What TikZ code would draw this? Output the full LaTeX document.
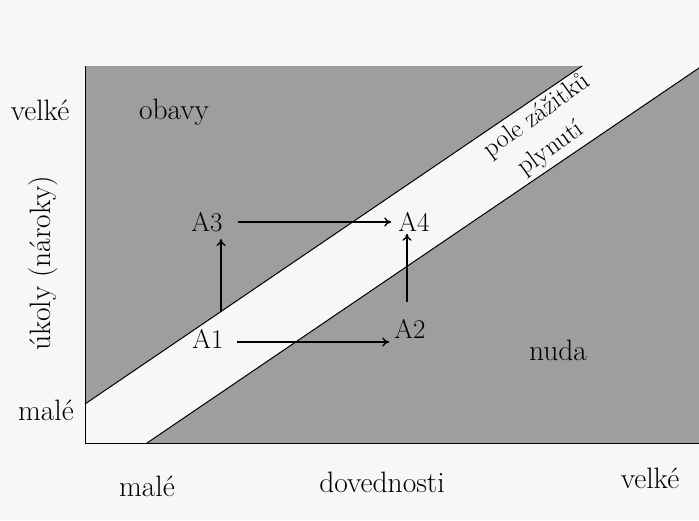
\documentclass[tikz,border=0pt]{standalone}
\usepackage{fontspec}
\usetikzlibrary{arrows.meta}
\definecolor{halftone}{gray}{0.62}
\definecolor{paper}{gray}{0.97}
\begin{document}
\begin{tikzpicture}[x=1pt,y=-1pt,
  lbl/.style={font=\fontsize{29.5}{33}\selectfont, inner sep=0pt},
  ptlbl/.style={font=\fontsize{27}{31}\selectfont, inner sep=0pt},
  bandlbl/.style={font=\fontsize{26}{30}\selectfont, inner sep=0pt, rotate=36},
  arr/.style={-{To[length=7pt,width=9pt]}, line width=1.3pt},
  edgeline/.style={line width=1pt}]
\useasboundingbox (0,0) rectangle (699,520);
\fill[paper] (0,0) rectangle (699,520);
\fill[halftone] (85,66) -- (582,66) -- (85,404) -- cycle;
\fill[halftone] (147,443) -- (699,68) -- (699,443) -- cycle;
\draw[edgeline] (85,66) -- (85,443) -- (699,443);
\draw[edgeline] (85,404) -- (582,66);
\draw[edgeline] (147,443) -- (699,68);
\node[lbl] (velkeY) at (40,110) {velké};
\node[lbl] (maleY) at (46,410) {malé};
\node[lbl, rotate=90] (ukoly) at (43,263) {úkoly (nároky)};
\node[lbl] (maleX) at (147,486) {malé};
\node[lbl] (dov) at (382,482) {dovednosti};
\node[lbl] (velkeX) at (650,478) {velké};
\node[lbl] (obavy) at (174,112) {obavy};
\node[lbl] (nuda) at (558,350) {nuda};
\node[bandlbl] (pole) at (537,116) {pole zážitků};
\node[bandlbl] (plyn) at (551,149) {plynutí};
\node[ptlbl] (A1) at (208,339) {A1};
\node[ptlbl] (A2) at (410,329) {A2};
\node[ptlbl] (A3) at (207,222) {A3};
\node[ptlbl] (A4) at (414,222) {A4};
\draw[arr] ([xshift=13pt,yshift=-3pt]A1.east) -- ([xshift=-5pt,yshift=-3pt]A1.east -| A2.west);
\draw[arr] ([xshift=15pt]A3.east) -- ([xshift=-7pt]A3.east -| A4.west);
\draw[arr] ([xshift=13pt,yshift=17pt]A1.north) -- ([xshift=14pt,yshift=-7pt]A3.south);
\draw[arr] ([xshift=-3pt,yshift=17pt]A2.north) -- ([xshift=-7pt,yshift=-2pt]A4.south);
\end{tikzpicture}
\end{document}
